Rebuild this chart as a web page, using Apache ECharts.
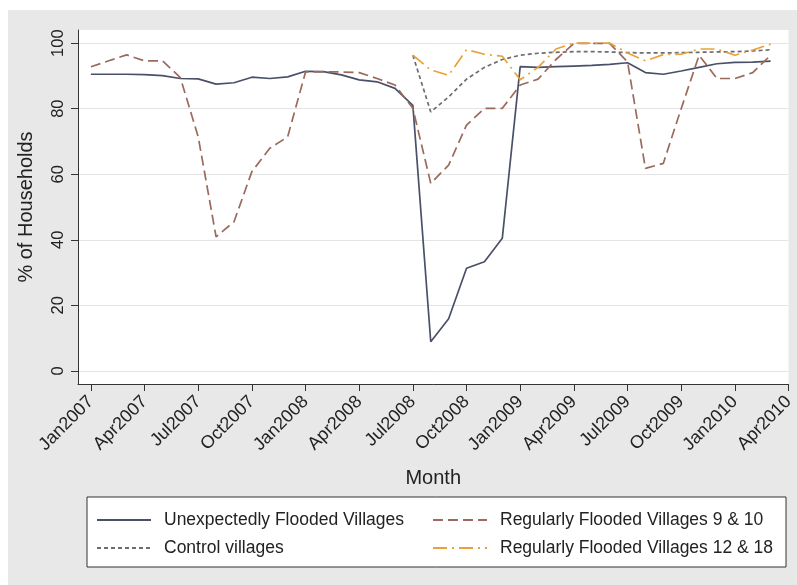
<!DOCTYPE html>
<html>
<head>
<meta charset="utf-8">
<script src="https://cdn.jsdelivr.net/npm/echarts@6/dist/echarts.min.js"></script>
<style>
  html, body { margin: 0; padding: 0; background: #ffffff; }
  #chart { position: absolute; left: 8px; top: 10px; width: 789px; height: 575px; background: #e8e8e8; }
</style>
</head>
<body>
<div id="chart"></div>
<script>
// Monthly share of households, Jan2007 (month 0) to Mar2010 (month 38)
const unexpectedFlooded = [
  90.5, 90.5, 90.5, 90.4, 90.1, 89.2, 89.1, 87.5, 87.9, 89.6, 89.2, 89.7,
  91.4, 91.3, 90.3, 88.8, 88.2, 86.2, 81.0, 8.9, 15.9, 31.3, 33.3, 40.5,
  92.8, 92.6, 92.8, 93.0, 93.2, 93.5, 94.0, 91.0, 90.5, 91.5, 92.6, 93.7,
  94.1, 94.2, 94.5
];
const regular9and10 = [
  92.8, 94.6, 96.4, 94.6, 94.6, 89.5, 71.4, 40.9, 45.5, 60.8, 67.9, 71.4,
  91.2, 91.2, 91.2, 91.0, 89.2, 87.2, 80.1, 57.2, 62.8, 75.0, 80.1, 80.1,
  87.2, 89.0, 95.0, 99.9, 99.9, 99.9, 94.3, 61.8, 63.3, 80.0, 96.3, 89.2,
  89.2, 91.0, 96.3
];
const controlVillages = [
  null, null, null, null, null, null, null, null, null, null, null, null,
  null, null, null, null, null, null, 96.3, 79.0, 83.6, 89.0, 92.6, 95.0,
  96.3, 96.9, 97.2, 97.4, 97.4, 97.3, 97.1, 97.0, 97.0, 97.1, 97.2, 97.3,
  97.4, 97.6, 98.0
];
const regular12and18 = [
  null, null, null, null, null, null, null, null, null, null, null, null,
  null, null, null, null, null, null, 96.3, 91.8, 90.2, 98.0, 96.6, 96.0,
  88.8, 92.6, 98.2, 100.0, 100.0, 100.0, 97.0, 94.6, 96.5, 96.6, 98.2, 98.2,
  96.3, 97.9, 99.7
];

const seriesNames = [
  'Unexpectedly Flooded Villages',
  'Regularly Flooded Villages 9 & 10',
  'Control villages',
  'Regularly Flooded Villages 12 & 18'
];

// Quarterly ticks on the month axis
const tickMonths = [0, 3, 6, 9, 12, 15, 18, 21, 24, 27, 30, 33, 36, 39];
const tickLabels = [
  'Jan2007', 'Apr2007', 'Jul2007', 'Oct2007', 'Jan2008', 'Apr2008', 'Jul2008',
  'Oct2008', 'Jan2009', 'Apr2009', 'Jul2009', 'Oct2009', 'Jan2010', 'Apr2010'
];
const yTicks = [0, 20, 40, 60, 80, 100];

const toPoints = arr => arr.map((v, i) => [i, v]);

const lineSeries = (name, values, color, dash) => ({
  name: name,
  type: 'line',
  data: toPoints(values),
  symbol: 'none',
  showSymbol: false,
  connectNulls: false,
  lineStyle: { color: color, width: 1.7, type: dash },
  itemStyle: { color: color },
  emphasis: { disabled: true }
});

const chart = echarts.init(document.getElementById('chart'), null, { renderer: 'canvas' });

const axisColor = '#333333';
const textColor = '#222222';
const fontFamily = '"Liberation Sans", Arial, Helvetica, sans-serif';

const legendBase = {
  orient: 'vertical',
  top: 496,
  itemWidth: 54,
  itemHeight: 20,
  itemGap: 10,
  itemStyle: { opacity: 0 },
  textStyle: { fontSize: 17.5, color: textColor, fontFamily: fontFamily, padding: [0, 0, 0, 8] },
  selectedMode: false
};

chart.setOption({
  animation: false,
  backgroundColor: 'transparent',
  textStyle: { fontFamily: fontFamily },
  grid: {
    left: 69, right: 3, top: 20, bottom: 201,
    show: true, backgroundColor: '#ffffff', borderWidth: 0
  },
  xAxis: {
    type: 'value',
    min: -0.72,
    max: 39,
    name: 'Month',
    nameLocation: 'middle',
    nameGap: 84,
    nameTextStyle: { fontSize: 20, color: textColor, fontFamily: fontFamily },
    axisLine: { show: true, onZero: false, lineStyle: { color: axisColor, width: 1 } },
    axisTick: { show: true, customValues: tickMonths, length: 7, lineStyle: { color: axisColor } },
    axisLabel: {
      customValues: tickMonths,
      rotate: 45,
      margin: 15,
      fontSize: 18,
      color: textColor,
      fontFamily: fontFamily,
      formatter: v => tickLabels[tickMonths.indexOf(v)] || ''
    },
    splitLine: { show: false }
  },
  yAxis: {
    type: 'value',
    min: -4,
    max: 104,
    name: '% of Households',
    nameLocation: 'middle',
    nameRotate: 90,
    nameGap: 42,
    nameTextStyle: { fontSize: 20, color: textColor, fontFamily: fontFamily },
    axisLine: { show: true, onZero: false, lineStyle: { color: axisColor, width: 1 } },
    axisTick: { show: true, customValues: yTicks, length: 7, lineStyle: { color: axisColor } },
    axisLabel: {
      customValues: yTicks,
      rotate: 90,
      margin: 11,
      fontSize: 16.5,
      color: textColor,
      fontFamily: fontFamily
    },
    splitLine: { show: true, lineStyle: { color: '#e4e4e4', width: 1 } }
  },
  graphic: [{
    type: 'rect',
    z: 0,
    shape: { x: 79, y: 487, width: 699, height: 70 },
    style: { fill: '#ffffff', stroke: '#333333', lineWidth: 1 }
  }],
  legend: [
    Object.assign({}, legendBase, { data: [seriesNames[0], seriesNames[2]], left: 83 }),
    Object.assign({}, legendBase, { data: [seriesNames[1], seriesNames[3]], left: 419 })
  ],
  series: [
    lineSeries(seriesNames[0], unexpectedFlooded, '#4a5068', 'solid'),
    lineSeries(seriesNames[1], regular9and10, '#9c6a5c', [10, 5]),
    lineSeries(seriesNames[2], controlVillages, '#6a6e6e', [4, 3]),
    lineSeries(seriesNames[3], regular12and18, '#e9a23b', [14, 5, 2, 5])
  ]
});
</script>
</body>
</html>
